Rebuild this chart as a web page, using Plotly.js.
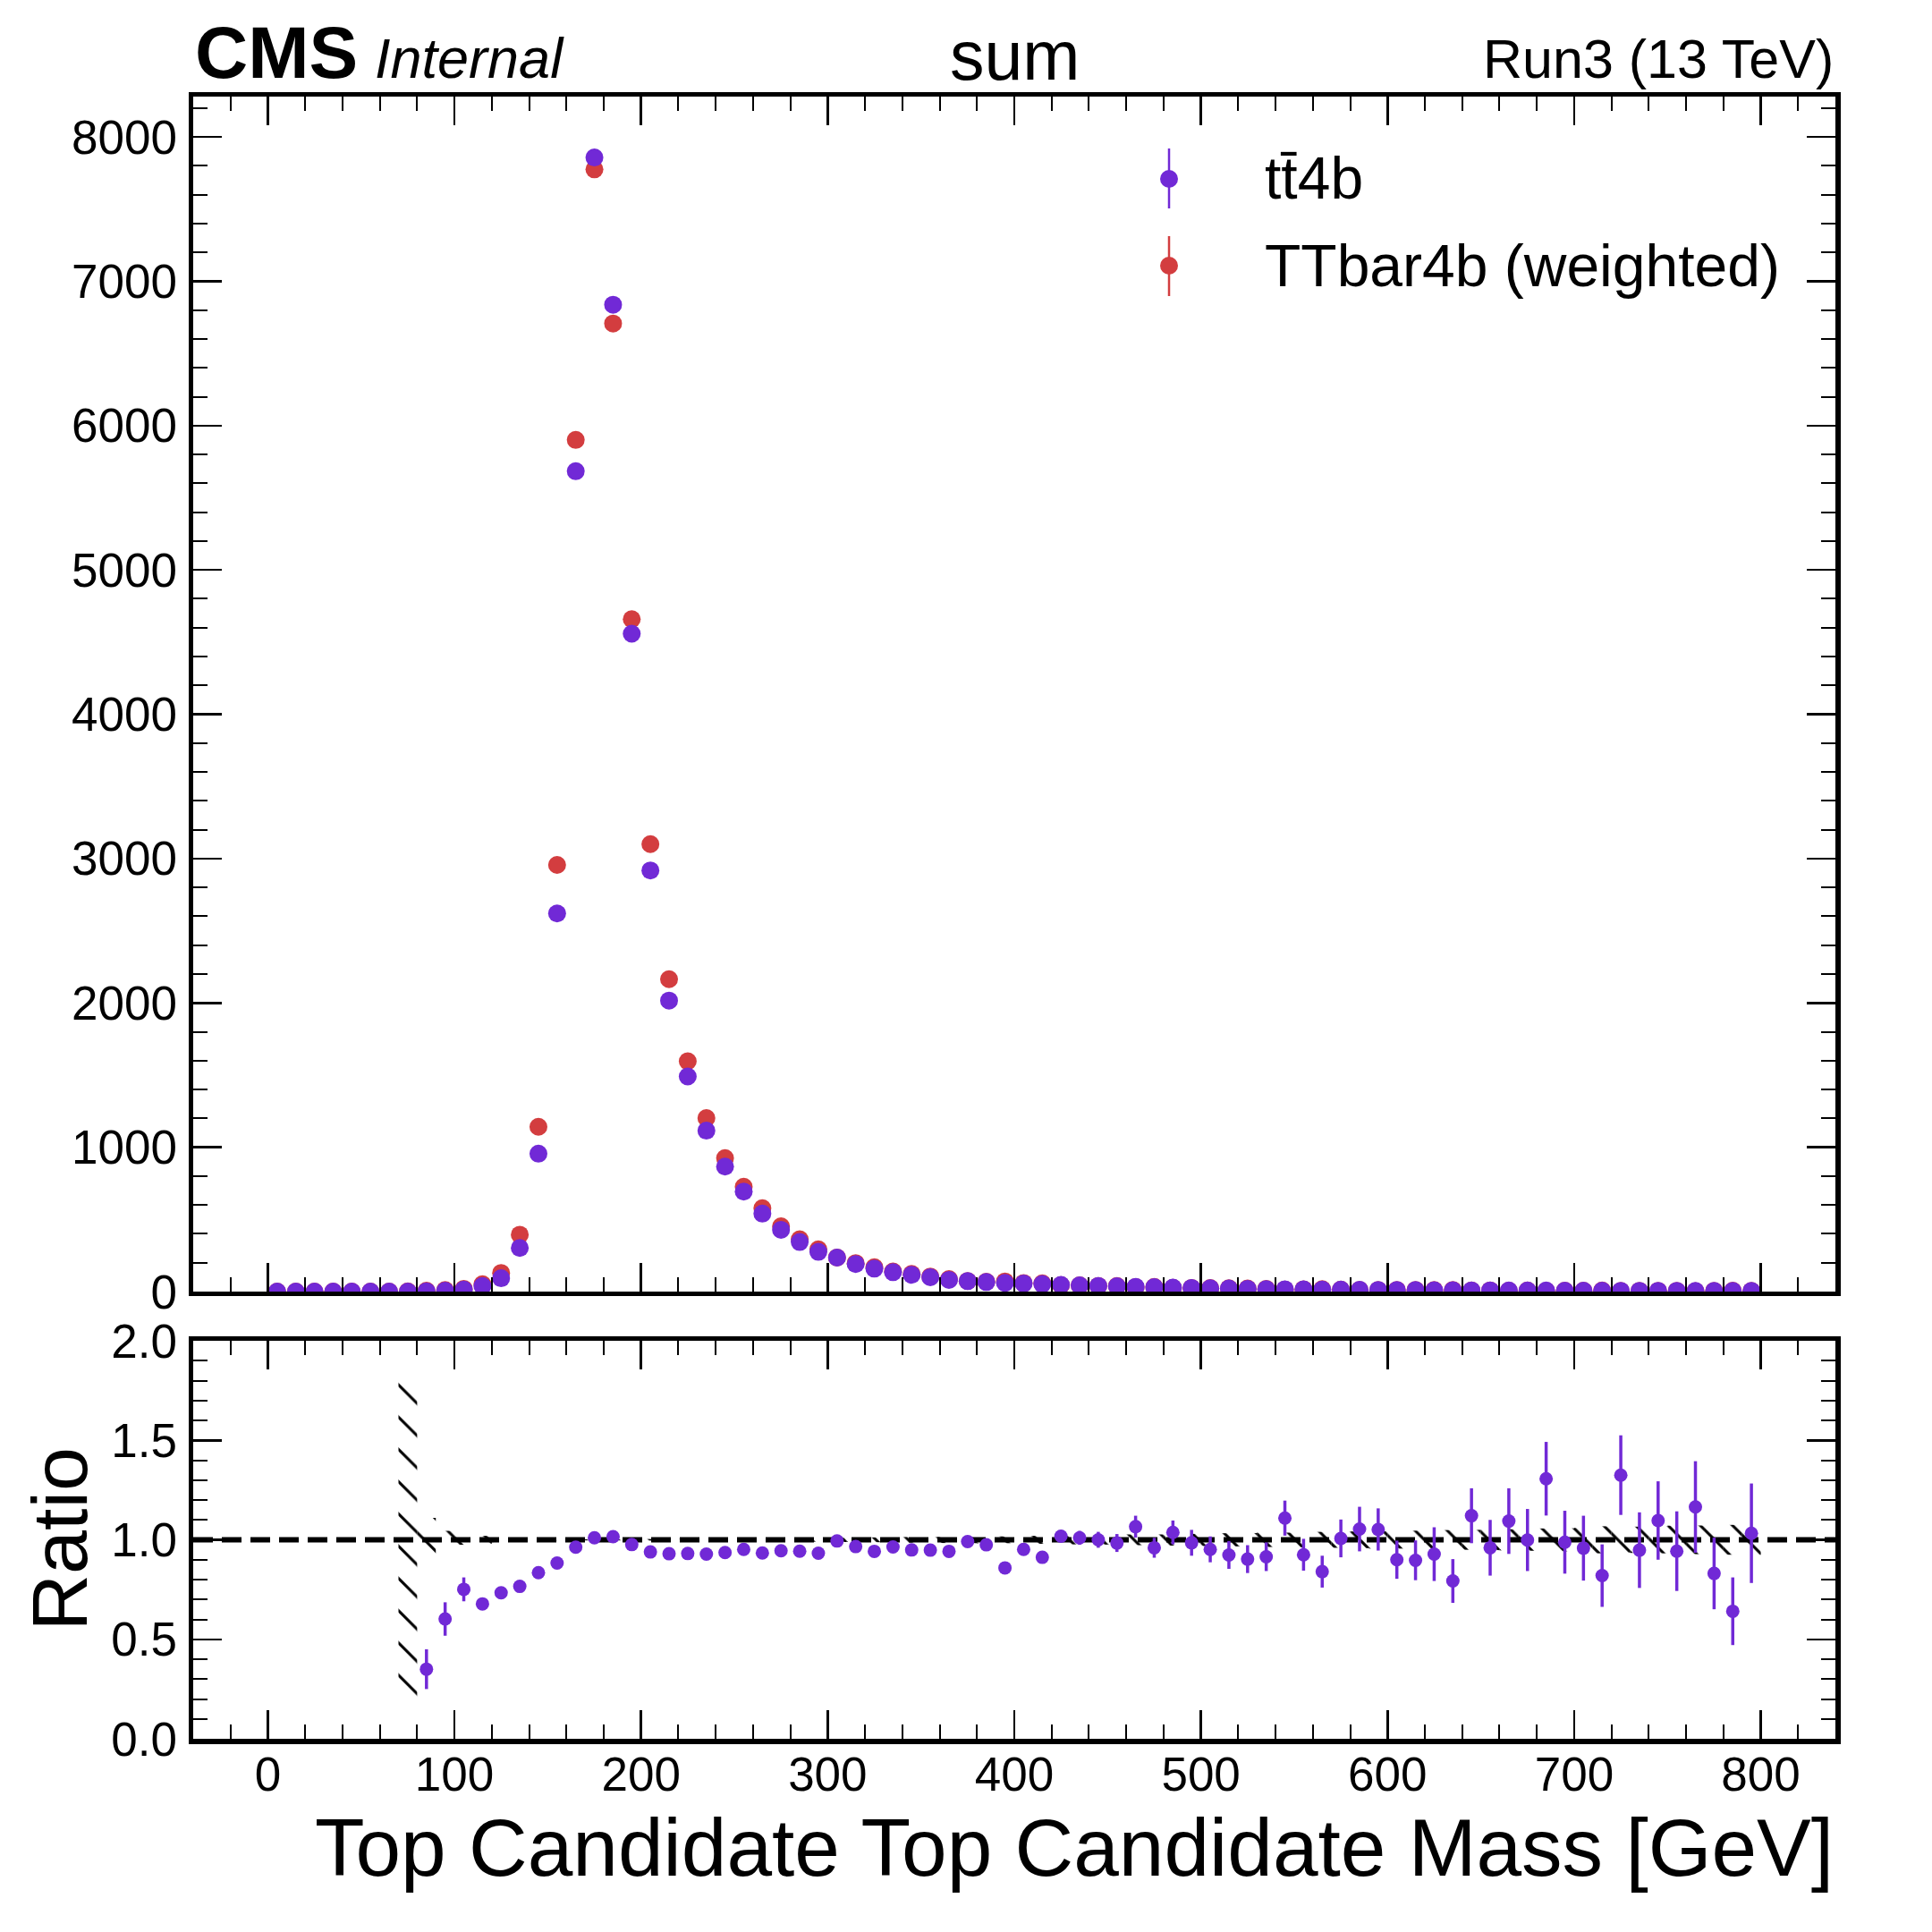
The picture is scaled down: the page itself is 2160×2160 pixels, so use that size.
<!DOCTYPE html>
<html><head><meta charset="utf-8">
<script src="https://cdn.plot.ly/plotly-3.0.1.min.js"></script>
<style>html,body{margin:0;padding:0;background:#fff;}#plot{width:2160px;height:2160px;}</style>
</head><body><div id="plot"></div>
<script>
// ---------------- data ----------------
const binCenters = [5,15,25,35,45,55,65,75,85,95,105,115,125,135,145,155,165,175,185,195,
  205,215,225,235,245,255,265,275,285,295,305,315,325,335,345,355,365,375,385,395,
  405,415,425,435,445,455,465,475,485,495,505,515,525,535,545,555,565,575,585,595,
  605,615,625,635,645,655,665,675,685,695,705,715,725,735,745,755,765,775,785,795];

const tt4b = [0,0,0,0,0,0,0,0,
  2,6,14,38,92,302,955,2620,5684,7858,6838,4558,
  2918,2016,1490,1115,866,693,540,428,343,275,
  235,190,159,134,116,99,81,72,66,60,
  56,52,46,43,39,37,33,31,27,25,
  23,21,19,17,16,15,14,13,12,11,
  10,10,9,9,8,8,7,7,7,6,
  6,6,5,5,5,5,4,4,4,4];

const ttbar4b = [0,0,0,0,0,0,0,1,
  6,10,19,51,129,394,1142,2956,5901,7776,6708,4659,
  3100,2164,1596,1202,925,726,577,452,362,292,
  236,197,168,139,122,104,86,73,68,70,
  59,57,45,43,39,38,31,32,26,25,
  24,23,21,19,14,16,17,13,11,10,
  11,11,10,11,7,8,6,7,5,6,
  6,7,4,5,5,5,3,5,6,4];

const ratioX = [85,95,105,115,125,135,145,155,165,175,
  185,195,205,215,225,235,245,255,265,275,
  285,295,305,315,325,335,345,355,365,375,
  385,395,405,415,425,435,445,455,465,475,
  485,495,505,515,525,535,545,555,565,575,
  585,595,605,615,625,635,645,655,665,675,
  685,695,705,715,725,735,745,755,765,775,
  785,795];

const ratioVal = [0.350,0.602,0.751,0.678,0.734,0.766,0.835,0.883,0.963,1.010,
  1.016,0.976,0.939,0.930,0.931,0.928,0.936,0.952,0.934,0.945,
  0.943,0.933,0.994,0.966,0.942,0.964,0.949,0.948,0.942,0.991,
  0.975,0.859,0.952,0.912,1.018,1.010,1.000,0.984,1.066,0.960,
  1.037,0.985,0.952,0.924,0.903,0.915,1.109,0.925,0.840,1.007,
  1.054,1.052,0.900,0.897,0.928,0.793,1.121,0.960,1.094,0.999,
  1.307,0.988,0.958,0.820,1.325,0.948,1.097,0.943,1.165,0.831,
  0.641,1.033];

const ratioErr = [0.100,0.084,0.060,0.020,0.012,0.008,0.006,0.005,0.004,0.003,
  0.003,0.004,0.005,0.006,0.007,0.008,0.009,0.010,0.011,0.012,
  0.013,0.015,0.016,0.018,0.020,0.021,0.022,0.024,0.026,0.028,
  0.029,0.030,0.030,0.030,0.030,0.035,0.040,0.045,0.055,0.050,
  0.060,0.065,0.065,0.070,0.070,0.072,0.088,0.080,0.080,0.095,
  0.112,0.106,0.096,0.100,0.135,0.110,0.138,0.140,0.165,0.156,
  0.185,0.158,0.163,0.157,0.200,0.190,0.197,0.200,0.230,0.180,
  0.170,0.250];

const bandX = [75,85,95,105,115,125,135,145,155,165,
  175,185,195,205,215,225,235,245,255,265,
  275,285,295,305,315,325,335,345,355,365,
  375,385,395,405,415,425,435,445,455,465,
  475,485,495,505,515,525,535,545,555,565,
  575,585,595,605,615,625,635,645,655,665,
  675,685,695,705,715,725,735,745,755,765,
  775,785,795];

const bandErr = [0.82,0.11,0.045,0.025,0.020,0.012,0.008,0.005,0.004,0.003,
  0.003,0.003,0.004,0.004,0.005,0.005,0.006,0.007,0.007,0.008,
  0.008,0.009,0.010,0.011,0.011,0.012,0.013,0.014,0.014,0.016,
  0.017,0.018,0.017,0.020,0.020,0.022,0.023,0.024,0.025,0.027,
  0.027,0.029,0.030,0.031,0.033,0.034,0.036,0.036,0.038,0.040,
  0.040,0.042,0.044,0.044,0.046,0.047,0.049,0.050,0.052,0.053,
  0.055,0.057,0.058,0.060,0.068,0.064,0.066,0.068,0.071,0.072,
  0.074,0.075,0.076];

const xTickVals = [0,100,200,300,400,500,600,700,800];

// ---------------- style ----------------
const FONT = 'Liberation Sans, Arial, Helvetica, sans-serif';
const PURPLE = '#7129d6';
const RED = '#d33d3f';
const PX = 2160;
const py = p => 1 - p / PX;      // page y px -> paper
const pxx = p => p / PX;         // page x px -> paper
const base = (b, s) => 1 - (b + 0.212 * s + 1) / PX; // baseline -> bottom anchor

const bandBase = bandErr.map(e => 1 - e);
const bandHeight = bandErr.map(e => 2 * e);

const traces = [
  {type:'scatter', mode:'markers', x:binCenters, y:ttbar4b, xaxis:'x', yaxis:'y',
   marker:{size:20, color:RED}, showlegend:false, hoverinfo:'skip'},
  {type:'scatter', mode:'markers', x:binCenters, y:tt4b, xaxis:'x', yaxis:'y',
   marker:{size:20, color:PURPLE}, showlegend:false, hoverinfo:'skip'},
  {type:'bar', x:bandX, y:bandHeight, base:bandBase, width:10, xaxis:'x2', yaxis:'y2',
   marker:{color:'black', line:{width:0},
     pattern:{shape:'\\', size:25.5, solidity:0.12, fgcolor:'black', bgcolor:'rgba(0,0,0,0)', fillmode:'replace'}},
   showlegend:false, hoverinfo:'skip'},
  {type:'scatter', mode:'markers', x:ratioX, y:ratioVal, xaxis:'x2', yaxis:'y2',
   marker:{size:15, color:PURPLE},
   error_y:{type:'data', array:ratioErr, visible:true, color:PURPLE, thickness:3.5, width:0},
   showlegend:false, hoverinfo:'skip'}
];

const axBase = () => ({showline:true, linewidth:5.5, linecolor:'black', mirror:'allticks',
  ticks:'inside', ticklen:32, tickwidth:2.5, tickcolor:'black', showgrid:false, zeroline:false,
  tickfont:{family:FONT, size:53, color:'black'}});

const layout = {
  width:2160, height:2160, autosize:false,
  margin:{l:0, r:0, t:0, b:0, pad:0},
  paper_bgcolor:'white', plot_bgcolor:'white',
  barmode:'overlay', showlegend:false,
  xaxis: Object.assign(axBase(), {domain:[0.1,0.95], anchor:'y', range:[-40,840],
    tickvals:xTickVals, showticklabels:false, matches:'x2',
    minor:{ticks:'inside', ticklen:16, tickwidth:2, tickcolor:'black', dtick:20, showgrid:false}}),
  yaxis: Object.assign(axBase(), {domain:[0.3315,0.95], anchor:'x', range:[0,8280],
    tick0:0, dtick:1000, ticklabelstandoff:2,
    minor:{ticks:'inside', ticklen:16, tickwidth:2, tickcolor:'black', dtick:200, showgrid:false}}),
  xaxis2: Object.assign(axBase(), {domain:[0.1,0.95], anchor:'y2', range:[-40,840],
    tickvals:xTickVals, ticklabelstandoff:-11,
    minor:{ticks:'inside', ticklen:16, tickwidth:2, tickcolor:'black', dtick:20, showgrid:false}}),
  yaxis2: Object.assign(axBase(), {domain:[0.1,0.306], anchor:'x2', range:[0,2],
    tick0:0, dtick:0.5, tickformat:'.1f', ticklabelstandoff:2,
    minor:{ticks:'inside', ticklen:16, tickwidth:2, tickcolor:'black', dtick:0.1, showgrid:false}}),
  shapes: [
    {type:'line', layer:'below', xref:'paper', yref:'y2', x0:0.1, x1:0.95, y0:1, y1:1,
     line:{color:'black', width:6, dash:'22px,10px'}},
    // legend glyphs
    {type:'line', xref:'paper', yref:'paper', x0:pxx(1307), x1:pxx(1307), y0:py(166), y1:py(233),
     line:{color:PURPLE, width:2.5}},
    {type:'circle', xref:'paper', yref:'paper', x0:pxx(1297), x1:pxx(1317), y0:py(190), y1:py(210),
     fillcolor:PURPLE, line:{width:0}},
    {type:'line', xref:'paper', yref:'paper', x0:pxx(1307), x1:pxx(1307), y0:py(264), y1:py(331),
     line:{color:RED, width:2.5}},
    {type:'circle', xref:'paper', yref:'paper', x0:pxx(1297), x1:pxx(1317), y0:py(287), y1:py(307),
     fillcolor:RED, line:{width:0}}
  ],
  annotations: [
    {text:'<b>CMS</b>', xref:'paper', yref:'paper', x:0.1, y:base(88,82), xanchor:'left', yanchor:'bottom',
     showarrow:false, font:{family:FONT, size:82, color:'black'}},
    {text:'<i>Internal</i>', xref:'paper', yref:'paper', x:pxx(417), y:base(88,63), xanchor:'left', yanchor:'bottom',
     showarrow:false, font:{family:FONT, size:63, color:'black'}},
    {text:'sum', xref:'paper', yref:'paper', x:0.525, y:base(90,77), xanchor:'center', yanchor:'bottom',
     showarrow:false, font:{family:FONT, size:77, color:'black'}},
    {text:'Run3 (13 TeV)', xref:'paper', yref:'paper', x:0.95, y:base(88,61), xanchor:'right', yanchor:'bottom',
     showarrow:false, font:{family:FONT, size:61, color:'black'}},
    {text:'Top Candidate Top Candidate Mass [GeV]', xref:'paper', yref:'paper', x:0.95, y:base(2098,91),
     xanchor:'right', yanchor:'bottom', showarrow:false, font:{family:FONT, size:91, color:'black'}},
    {text:'Ratio', xref:'paper', yref:'paper', x:pxx(67), y:0.203, xanchor:'center', yanchor:'middle',
     textangle:-90, showarrow:false, font:{family:FONT, size:88, color:'black'}},
    {text:'tt\u03044b', xref:'paper', yref:'paper', x:pxx(1412), y:base(223,66), xanchor:'left', yanchor:'bottom',
     showarrow:false, font:{family:FONT, size:66, color:'black'}},
    {text:'TTbar4b (weighted)', xref:'paper', yref:'paper', x:pxx(1412), y:base(321,66), xanchor:'left', yanchor:'bottom',
     showarrow:false, font:{family:FONT, size:66, color:'black'}}
  ]
};

Plotly.newPlot('plot', traces, layout, {staticPlot:true, displayModeBar:false});
</script>
</body></html>
